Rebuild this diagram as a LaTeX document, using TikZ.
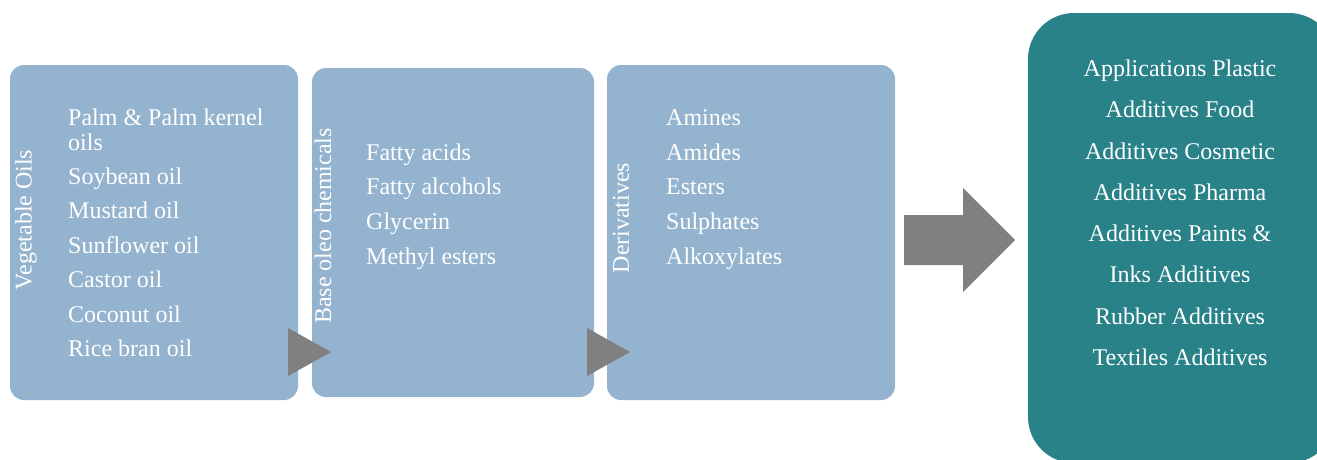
\documentclass[tikz,border=0pt]{standalone}
\usepackage{fontspec}
\setmainfont{Liberation Serif}
\definecolor{boxblue}{RGB}{148,179,206}
\definecolor{teal2}{RGB}{42,130,137}
\definecolor{arrgray}{RGB}{128,128,128}
\begin{document}
\begin{tikzpicture}[x=1pt,y=-1pt,
  stage/.style={fill=boxblue, draw=none, rounded corners=14pt, inner sep=0pt},
  appbox/.style={fill=teal2, draw=none, rounded corners=46pt, inner sep=0pt},
  item/.style={text=white, font=\fontsize{24}{28}\selectfont, anchor=base west, inner sep=0pt},
  appline/.style={text=white, font=\fontsize{24}{28}\selectfont, anchor=base, inner sep=0pt},
  vlabel/.style={text=white, font=\fontsize{24}{28}\selectfont, rotate=90, anchor=center, inner sep=0pt},
  tri/.style={fill=arrgray, draw=none}]
\useasboundingbox (0,0) rectangle (1317,459);
\fill[white] (0,0) rectangle (1317,459);
% stage boxes
\node[stage, minimum width=288pt, minimum height=335pt] (b1) at (154,232.5) {};
\node[stage, minimum width=282pt, minimum height=329pt] (b2) at (453,232.5) {};
\node[stage, minimum width=288pt, minimum height=335pt] (b3) at (751,232.5) {};
\node[appbox, minimum width=307pt, minimum height=450pt] (b4) at (1181.5,238) {};
% small triangles
\fill[tri] (288,328) -- (331,352) -- (288,376) -- cycle;
\fill[tri] (587,328) -- (630,352) -- (587,376) -- cycle;
% big arrow
\fill[tri] (904,215) -- (963,215) -- (963,188) -- (1015,240) -- (963,292) -- (963,265) -- (904,265) -- cycle;
% vertical labels
\node[vlabel] (l1) at (26,220) {Vegetable Oils};
\node[vlabel] (l2) at (323,226) {Base oleo chemicals};
\node[vlabel] (l3) at (621,218) {Derivatives};
% box 1 items
\node[item] (a1) at (68,125) {Palm \& Palm kernel};
\node[item] (a2) at (68,150) {oils};
\node[item] (a3) at (68,184) {Soybean oil};
\node[item] (a4) at (68,218) {Mustard oil};
\node[item] (a5) at (68,253) {Sunflower oil};
\node[item] (a6) at (68,287) {Castor oil};
\node[item] (a7) at (68,322) {Coconut oil};
\node[item] (a8) at (68,356) {Rice bran oil};
% box 2 items
\node[item] (c1) at (366,160) {Fatty acids};
\node[item] (c2) at (366,194) {Fatty alcohols};
\node[item] (c3) at (366,229) {Glycerin};
\node[item] (c4) at (366,264) {Methyl esters};
% box 3 items
\node[item] (d1) at (666,125) {Amines};
\node[item] (d2) at (666,160) {Amides};
\node[item] (d3) at (666,194) {Esters};
\node[item] (d4) at (666,229) {Sulphates};
\node[item] (d5) at (666,264) {Alkoxylates};
% applications
\node[appline] (e1) at (1180,76) {Applications Plastic};
\node[appline] (e2) at (1180,117) {Additives Food};
\node[appline] (e3) at (1180,159) {Additives Cosmetic};
\node[appline] (e4) at (1180,200) {Additives Pharma};
\node[appline] (e5) at (1180,241) {Additives Paints \&};
\node[appline] (e6) at (1180,282) {Inks Additives};
\node[appline] (e7) at (1180,324) {Rubber Additives};
\node[appline] (e8) at (1180,365) {Textiles Additives};
\end{tikzpicture}
\end{document}
